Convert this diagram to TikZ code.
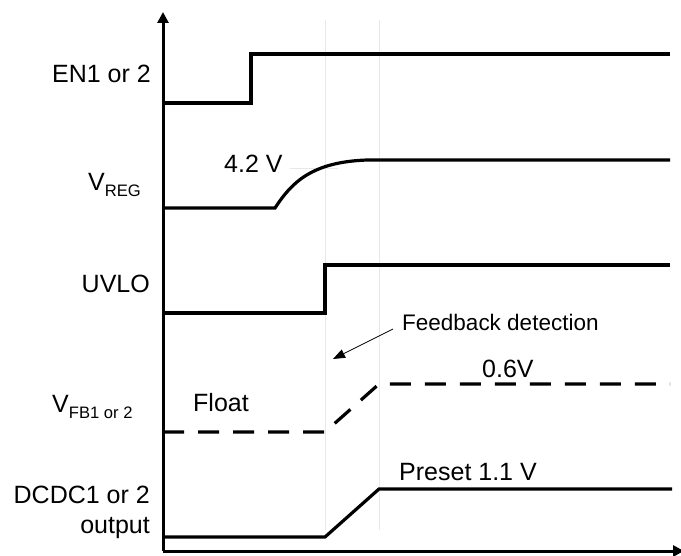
\documentclass[tikz,border=0pt]{standalone}
\usepackage{fontspec}
\setmainfont{Liberation Sans}
\usetikzlibrary{arrows.meta}
\tikzset{
  lbl/.style={inner sep=0pt, font=\fontsize{25}{30}\selectfont},
  small/.style={inner sep=0pt, font=\fontsize{22.5}{27}\selectfont},
  sig/.style={line width=3.2pt, line join=miter},
  dsig/.style={sig, dash pattern=on 21pt off 14pt},
  guide/.style={line width=0.8pt, black!9},
  axis/.style={line width=3pt, -{Triangle[length=11pt,width=11pt]}},
}
\newcommand{\sbs}[1]{\raisebox{-6pt}{\fontsize{16.6}{18}\selectfont #1}}
\begin{document}
\begin{tikzpicture}[x=1pt,y=-1pt]
\useasboundingbox (0,0) rectangle (681,556);
% faint guides
\draw[guide] (325,20) -- (325,530);
\draw[guide] (379,20) -- (379,530);
\draw[guide] (290,168) -- (338,168);
% axes
\coordinate (o) at (163,551);
\coordinate (ytop) at (163,12);
\coordinate (xend) at (684,551);
\draw[axis] (o) -- (ytop);
\draw[axis] (o) -- (xend);
% labels
\node[lbl, anchor=base east] (en) at (151,83) {EN1 or 2};
\node[lbl, anchor=base west] (vreg) at (88,191) {V\sbs{REG}};
\node[lbl, anchor=base east] (uvlo) at (150,293) {UVLO};
\node[lbl, anchor=base west] (vfb) at (52,413) {V\sbs{FB1 or 2}};
\node[lbl, anchor=base west] (float) at (193,412) {Float};
\node[lbl, anchor=base east, align=right] (dcdc) at (150,503) {DCDC1 or 2};
\node[lbl, anchor=base east] (out) at (150,533) {output};
\node[lbl, anchor=base west] (v42) at (224,173) {4.2 V};
\node[small, anchor=base west] (fb) at (402,331) {Feedback detection};
\node[lbl, anchor=base west] (v06) at (482,378) {0.6V};
\node[lbl, anchor=base west] (pre) at (399,480) {Preset 1.1 V};
% EN
\draw[sig] (163,103) -- (251,103) -- (251,54) -- (670,54);
% VREG
\draw[sig] (163,208) -- (275,208) .. controls (292,182) and (312,162) .. (367,160) -- (670,160);
% UVLO
\draw[sig] (163,313) -- (325,313) -- (325,265) -- (670,265);
% VFB
\draw[dsig] (163,432) -- (325,432) -- (379,384) -- (670,384);
% DCDC
\draw[sig] (163,537) -- (325,537) -- (379,489) -- (672,489);
% feedback arrow
\coordinate (fbtip) at (333,359);
\draw[line width=0.8pt, -{Triangle[length=12pt,width=9pt]}] (393,329) -- (fbtip);
\end{tikzpicture}
\end{document}
